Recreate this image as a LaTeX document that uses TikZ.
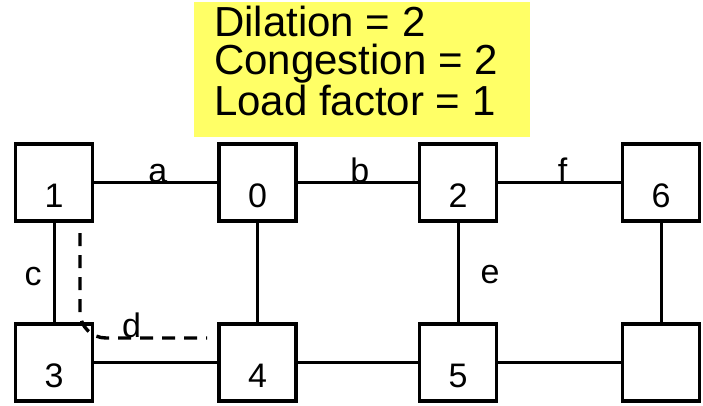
\documentclass[tikz,border=0pt]{standalone}
\usepackage{fontspec}
\setmainfont{Liberation Sans}
\definecolor{yel}{HTML}{FFFF66}
\begin{document}
\begin{tikzpicture}[x=1pt,y=-1pt,
  box/.style={draw, line width=3.4pt, minimum width=77pt, minimum height=77pt, inner sep=0pt,
    font=\fontsize{34}{34}\selectfont, text height=50pt, text depth=0pt},
  link/.style={line width=3pt},
  lab/.style={font=\fontsize{34}{34}\selectfont, inner sep=0pt},
  route/.style={line width=3.4pt, dash pattern=on 13pt off 9pt, rounded corners=26pt},
  infobox/.style={fill=yel, minimum width=336pt, minimum height=135pt, inner sep=0pt, anchor=north west},
  infotext/.style={font=\fontsize{42}{38.5}\selectfont, align=left, inner sep=0pt, anchor=base west}]
\useasboundingbox (0,0) rectangle (703,405);
\node[infobox] (info) at (194,2) {};
\node[infotext] (infot) at (214,115) {Dilation = 2\\Congestion = 2\\Load factor = 1};
\node[box] (n1) at (54,182.5) {1};
\node[box] (n0) at (257.5,182.5) {0};
\node[box] (n2) at (458,182.5) {2};
\node[box] (n6) at (661,182.5) {6};
\node[box] (n3) at (54,362.5) {3};
\node[box] (n4) at (257.5,362.5) {4};
\node[box] (n5) at (458,362.5) {5};
\node[box] (n7) at (661,362.5) {};
\draw[link] (n1) -- (n0) node[lab, midway, anchor=base, xshift=2pt] {a};
\draw[link] (n0) -- (n2) node[lab, midway, anchor=base, xshift=2pt] {b};
\draw[link] (n2) -- (n6) node[lab, midway, anchor=base, xshift=3pt] {f};
\draw[link] (n3) -- (n4);
\draw[link] (n4) -- (n5);
\draw[link] (n5) -- (n7);
\draw[link] (n1) -- (n3) node[lab, midway, anchor=east, xshift=-11pt, yshift=-4pt] {c};
\draw[link] (n0) -- (n4);
\draw[link] (n2) -- (n5) node[lab, midway, anchor=west, xshift=21pt, yshift=-2.5pt] {e};
\draw[link] (n6) -- (n7);
\coordinate (ds) at (80,233);
\coordinate (dc) at (80,338);
\coordinate (de) at (207,338);
\draw[route] (ds) -- (dc) -- (de);
\node[lab, anchor=base] (ld) at (131.5,337) {d};
\end{tikzpicture}
\end{document}
